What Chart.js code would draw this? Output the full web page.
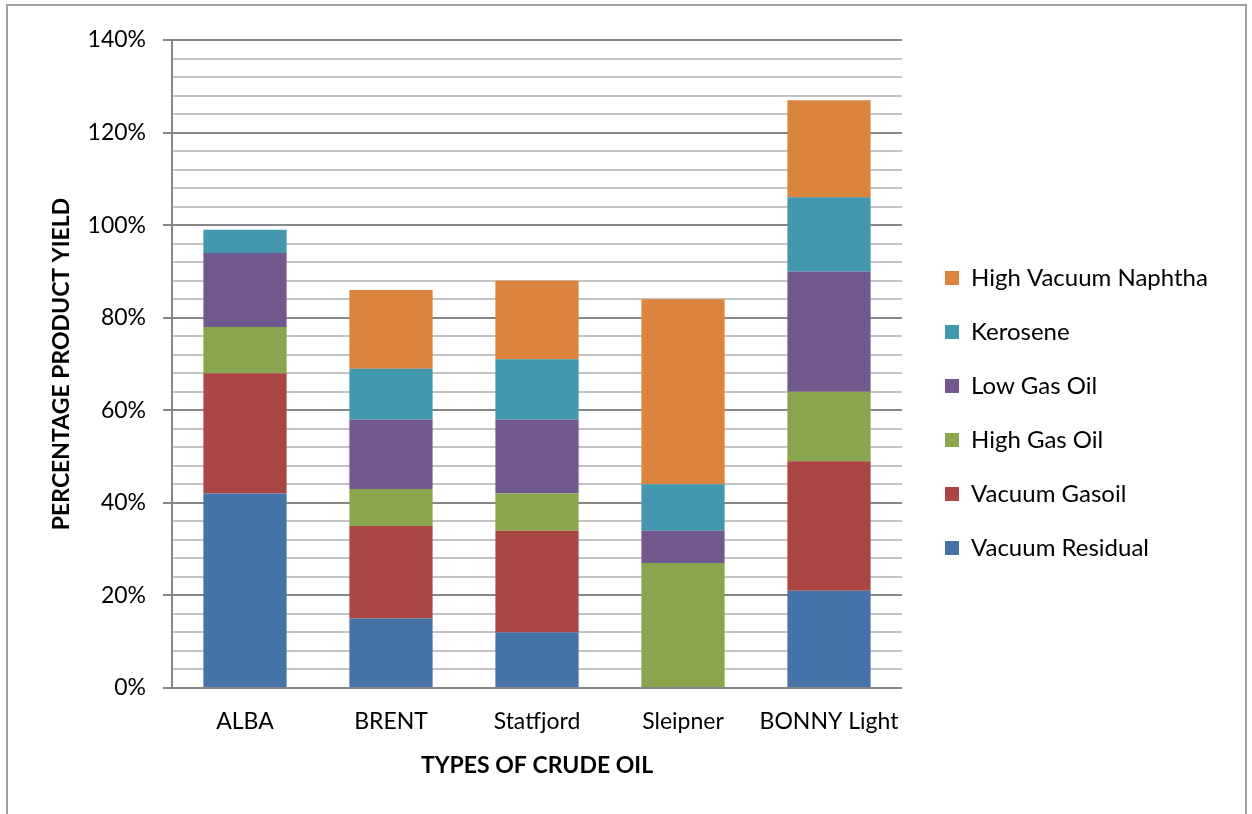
<!DOCTYPE html>
<html><head><meta charset="utf-8">
<script src="https://cdn.jsdelivr.net/npm/chart.js@4.4.0/dist/chart.umd.min.js"></script>
<style>
html,body{margin:0;padding:0;background:#fff;overflow:hidden}
#wrap{position:relative;width:1252px;height:814px}
#frame{position:absolute;left:6px;top:4px;width:1241px;height:840px;border:2px solid #a0a0a0;pointer-events:none;box-sizing:border-box}
canvas{position:absolute;left:0;top:0}
</style></head><body>
<div id="wrap"><canvas id="c" width="1252" height="814"></canvas><div id="frame"></div></div>
<script>
const categories = ['ALBA', 'BRENT', 'Statfjord', 'Sleipner', 'BONNY Light'];
const seriesNames = ['Vacuum Residual', 'Vacuum Gasoil', 'High Gas Oil', 'Low Gas Oil', 'Kerosene', 'High Vacuum Naphtha'];
const vacuumResidual    = [42, 15, 12, 0, 21];
const vacuumGasoil      = [26, 20, 22, 0, 28];
const highGasOil        = [10, 8, 8, 27, 15];
const lowGasOil         = [16, 15, 16, 7, 26];
const kerosene          = [5, 11, 13, 10, 16];
const highVacuumNaphtha = [0, 17, 17, 40, 21];
const yLabelledTicks = [0, 20, 40, 60, 80, 100, 120, 140];
const yMinorStep = 4;

const seriesValues = [vacuumResidual, vacuumGasoil, highGasOil, lowGasOil, kerosene, highVacuumNaphtha];
const seriesColors = ['#4572A7', '#AA4643', '#89A54E', '#71588F', '#4198AF', '#DB843D'];

const FONT = 'Lato, "Open Sans", sans-serif';
const tickFontSize = 23;
const titleFontSize = 23;
const legendFontSize = 24;
const legendPad = 30;
const legendBox = 14;

// measure legend text to place legend
const mctx = document.createElement('canvas').getContext('2d');
mctx.font = legendFontSize + 'px ' + FONT;
let maxTextW = 0;
seriesNames.forEach(n => { maxTextW = Math.max(maxTextW, mctx.measureText(n).width); });
const legendNatural = legendPad + legendBox + legendFontSize / 2 + maxTextW + 10;
const legendLeft = 915;
const padRight = Math.max(0, 1252 - legendLeft - legendNatural);

const datasets = seriesNames.map((name, i) => ({
  label: name,
  data: seriesValues[i],
  backgroundColor: seriesColors[i],
  borderWidth: 0,
  barPercentage: 0.57,
  categoryPercentage: 1.0
}));

new Chart(document.getElementById('c'), {
  type: 'bar',
  data: { labels: categories, datasets },
  options: {
    responsive: false,
    animation: false,
    devicePixelRatio: 1,
    layout: { padding: { left: 0, top: 40, right: padRight, bottom: 28 } },
    plugins: {
      tooltip: { enabled: false },
      legend: {
        position: 'right',
        reverse: true,
        maxWidth: 600,
        labels: {
          font: { family: FONT, size: legendFontSize },
          color: '#000',
          boxWidth: legendBox,
          boxHeight: legendBox,
          padding: legendPad
        }
      }
    },
    scales: {
      x: {
        stacked: true,
        grid: { display: false, drawTicks: false },
        border: { display: false },
        ticks: { font: { family: FONT, size: tickFontSize }, color: '#000', padding: 20 },
        title: { display: true, text: 'TYPES OF CRUDE OIL', color: '#000',
                 font: { family: FONT, size: titleFontSize, weight: 'bold' }, padding: { top: 0, bottom: 7 } },
        afterFit: (s) => { s.height = 98; }
      },
      y: {
        stacked: true,
        min: 0, max: 140,
        ticks: {
          stepSize: yMinorStep,
          autoSkip: false,
          padding: 17,
          font: { family: FONT, size: tickFontSize },
          color: '#000',
          callback: (v) => yLabelledTicks.includes(v) ? v + '%' : ''
        },
        grid: {
          color: (c) => yLabelledTicks.includes(c.tick.value) ? '#878787' : '#c4c4c4',
          tickColor: (c) => yLabelledTicks.includes(c.tick.value) ? '#878787' : 'rgba(0,0,0,0)',
          lineWidth: 2,
          tickLength: 9
        },
        border: { display: true, color: '#878787', width: 2 },
        title: { display: true, text: 'PERCENTAGE PRODUCT YIELD', color: '#000',
                 font: { family: FONT, size: titleFontSize, weight: 'bold' }, padding: { top: 48, bottom: 0 } },
        afterFit: (s) => { s.width = 172; }
      },
      spacer: {
        type: 'linear',
        position: 'right',
        display: true,
        grid: { display: false, drawTicks: false },
        border: { display: false },
        ticks: { display: false },
        afterFit: (s) => { s.width = 13; }
      }
    }
  }
});
</script>
</body></html>
